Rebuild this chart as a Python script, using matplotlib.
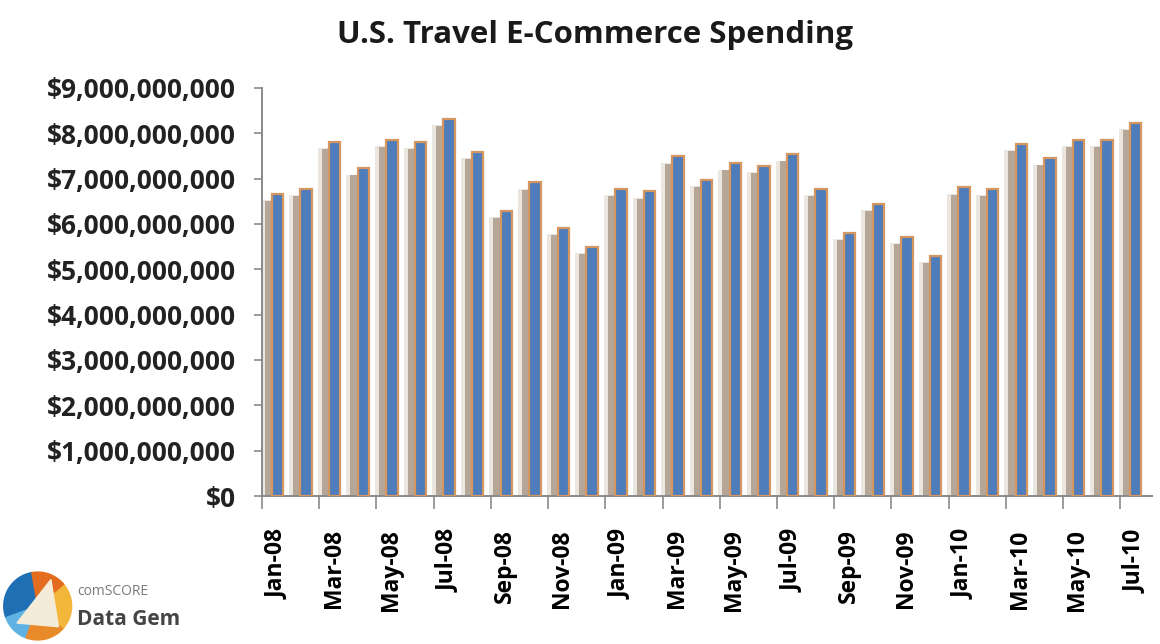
import numpy as np
import matplotlib.pyplot as plt
from matplotlib.patches import Wedge, Polygon
from matplotlib.ticker import FuncFormatter, FixedLocator

plt.rcParams['font.family'] = ['Open Sans', 'DejaVu Sans']

months = ['Jan', 'Feb', 'Mar', 'Apr', 'May', 'Jun', 'Jul', 'Aug', 'Sep', 'Oct', 'Nov', 'Dec']
labels = [f'{m}-{y}' for y in ['08', '09', '10'] for m in months][:31]

# monthly spend, US$ billions
spend = [6.67, 6.77, 7.81, 7.23, 7.86, 7.81, 8.32, 7.59, 6.29, 6.92, 5.92, 5.50,
         6.77, 6.72, 7.49, 6.98, 7.34, 7.28, 7.54, 6.77, 5.81, 6.45, 5.72, 5.30,
         6.81, 6.77, 7.77, 7.45, 7.86, 7.86, 8.23]

vals = np.array(spend) * 1e9
x = np.arange(len(vals))

fig = plt.figure(figsize=(11.6, 6.44), dpi=100)
ax = fig.add_axes([0.2259, 0.2298, 0.767, 0.6336])

# soft drop shadow to the left of each bar
ax.bar(x - 0.32, vals - 0.14e9, width=0.46, color='#ece6e0', zorder=1, linewidth=0)
ax.bar(x - 0.24, vals - 0.16e9, width=0.34, color='#b6a698', zorder=2, linewidth=0)
ax.bar(x + 0.04, vals, width=0.40, color='#4f7dbb', edgecolor='#d5975f',
       linewidth=1.6, zorder=3)

ax.set_xlim(-0.5, len(vals) - 0.4)
ax.set_ylim(0, 9e9)

ax.yaxis.set_major_locator(FixedLocator(np.arange(0, 9.01e9, 1e9)))
ax.yaxis.set_major_formatter(FuncFormatter(lambda v, p: f'${v:,.0f}'))

# tick marks on category borders, labels on every other month
ax.xaxis.set_major_locator(FixedLocator(np.arange(-0.5, len(vals), 2)))
ax.xaxis.set_major_formatter(FuncFormatter(lambda v, p: ''))
ax.xaxis.set_minor_locator(FixedLocator(x[::2]))
ax.set_xticklabels(labels[::2], minor=True, rotation=90, fontsize=16.5,
                   fontweight='bold', va='top', ha='center')

ax.tick_params(axis='x', which='major', length=9, width=1.2, color='#8a8a8a', direction='out')
ax.tick_params(axis='x', which='minor', length=0, pad=24)
ax.tick_params(axis='y', length=6, width=1.2, color='#8a8a8a', labelsize=19, pad=13)
for t in ax.get_yticklabels():
    t.set_fontweight('bold')
    t.set_color('#222222')

for s in ['top', 'right']:
    ax.spines[s].set_visible(False)
for s in ['left', 'bottom']:
    ax.spines[s].set_color('#8a8a8a')
    ax.spines[s].set_linewidth(1.4)

fig.text(0.513, 0.945, 'U.S. Travel E-Commerce Spending', ha='center', va='center',
         fontsize=22.5, fontweight='bold', color='#1a1a1a')

# comScore badge
lax = fig.add_axes([0.0, 0.0, 0.065, 0.118])
lax.set_xlim(-1, 1)
lax.set_ylim(-1, 1)
lax.set_aspect('equal')
lax.axis('off')
segs = [(100, 200, '#1f6fb5'), (200, 250, '#5fb3e3'), (250, 320, '#e88a2a'),
        (320, 40, '#f2b63a'), (40, 100, '#e46c1f')]
for a0, a1, c in segs:
    lax.add_patch(Wedge((0, 0), 0.9, a0, a1, color=c))
lax.add_patch(Polygon([(-0.55, -0.45), (0.35, 0.7), (0.55, -0.55)], color='#f4ecd8'))
fig.text(0.067, 0.081, 'comSCORE', fontsize=10, color='#7a7a7a', va='center')
fig.text(0.066, 0.038, 'Data Gem', fontsize=15, fontweight='bold', color='#444444', va='center')

fig.savefig('out.png', dpi=100)
